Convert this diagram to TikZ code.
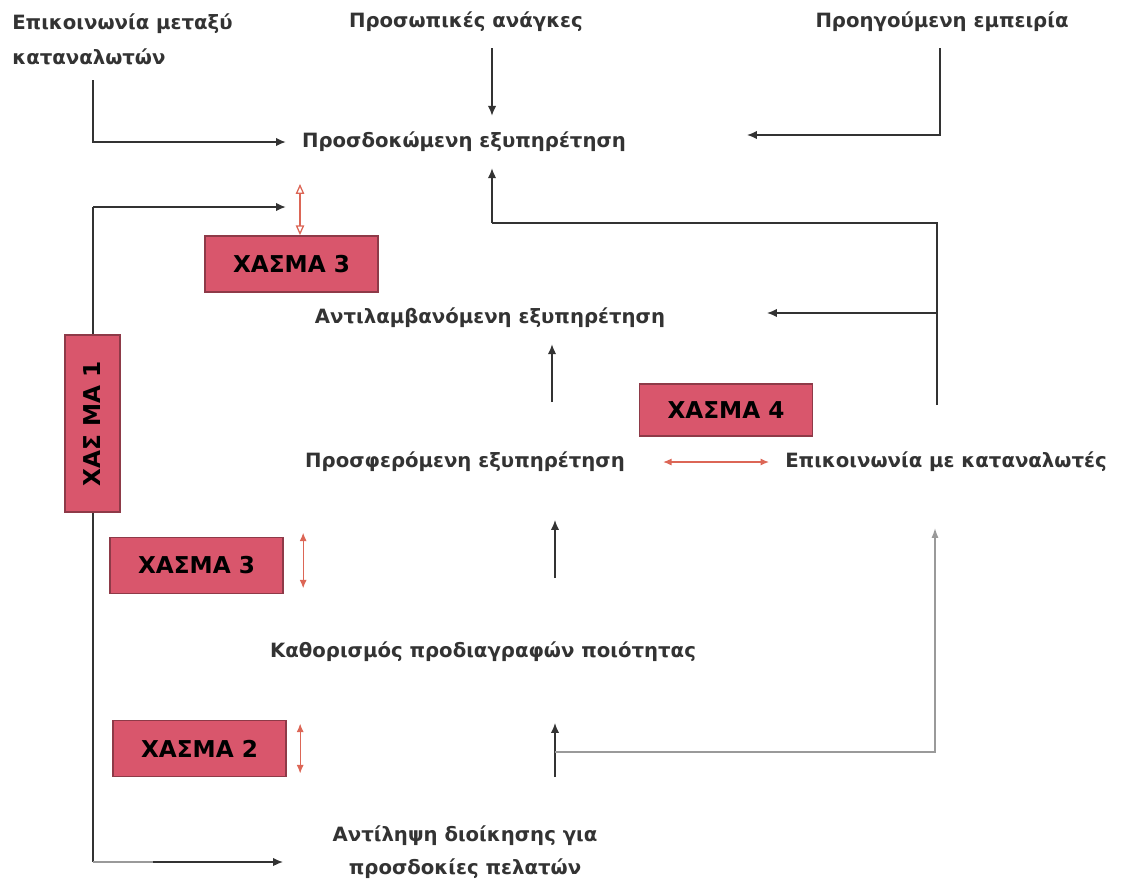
\documentclass[tikz,border=0pt]{standalone}
\usepackage{fontspec}
\setmainfont{DejaVu Sans}
\usetikzlibrary{positioning, arrows.meta}
\definecolor{gapfill}{HTML}{D9566C}
\definecolor{gapline}{HTML}{8E3A48}
\definecolor{gaparrow}{HTML}{DC6656}
\definecolor{txt}{HTML}{333333}
\definecolor{paleline}{HTML}{9A9A9A}

\begin{document}
\begin{tikzpicture}[
    x=0.025cm, y=-0.025cm,
    term/.style={font=\fontsize{14}{23}\selectfont\bfseries, text=txt, inner sep=0.4cm, align=center},
    gapbox/.style={rectangle, draw=gapline, line width=1.2pt, fill=gapfill, font=\fontsize{16.5}{19}\selectfont\bfseries, text=black, minimum width=4.33cm, minimum height=1.4cm},
    link/.style={draw=txt, line width=1.1pt},
    arr/.style={link, -{Latex[length=7pt,width=6pt]}},
    gaparr/.style={draw=gaparrow, line width=0.9pt, {Latex[length=6pt,width=5pt]}-{Latex[length=6pt,width=5pt]}},
    openarr/.style={draw=gaparrow, line width=0.9pt, {Triangle[open,length=7pt,width=6pt]}-{Triangle[open,length=7pt,width=6pt]}}
]
    \useasboundingbox (0,0) rectangle (1132,884);

    % texts
    \node[term, font=\fontsize{14}{25}\selectfont\bfseries, align=left, anchor=north west, inner sep=0pt] (wom) at (12,13) {Επικοινωνία μεταξύ\\καταναλωτών};
    \node[term] (needs) at (466,22) {Προσωπικές ανάγκες};
    \node[term] (past) at (942,22) {Προηγούμενη εμπειρία};
    \node[term] (expected) at (464,142) {Προσδοκώμενη εξυπηρέτηση};
    \node[term] (perceived) at (490,318) {Αντιλαμβανόμενη εξυπηρέτηση};
    \node[term] (delivered) at (465,462) {Προσφερόμενη εξυπηρέτηση};
    \node[term] (extcomm) at (946,462) {Επικοινωνία με καταναλωτές};
    \node[term] (specs) at (483,652) {Καθορισμός προδιαγραφών ποιότητας};
    \node[term] (mgmt) at (465,852) {Αντίληψη διοίκησης για\\προσδοκίες πελατών};

    % free ends and bends
    \coordinate (womfoot) at (93,80);
    \coordinate (pastend) at (747,135);
    \coordinate (loopfoot) at (937,405);
    \coordinate (loopbend) at (492,223);
    \coordinate (percend) at (767,313);
    \coordinate (lefttop) at (93,207);
    \coordinate (leftfoot) at (93,862);
    \coordinate (mgmtend) at (283,862);
    \coordinate (gaptop) at (300,184);
    \coordinate (delfoot) at (552,402);
    \coordinate (specfoot) at (555,578);
    \coordinate (spechead) at (555,520);
    \coordinate (mgmtfoot) at (555,777);
    \coordinate (mgmthead) at (555,723);
    \coordinate (extfoot) at (935,752);
    \coordinate (exthead) at (935,528);

    % connectors
    \draw[arr] (womfoot) |- (expected.west);
    \draw[arr] ([xshift=0.65cm]needs.south) -- ([xshift=0.7cm]expected.north);
    \draw[arr] ([xshift=-0.05cm]past.south) |- (pastend);
    \draw[link] (loopfoot) |- (loopbend);
    \draw[arr] (loopbend) -- (loopbend |- expected.south);
    \draw[arr] (loopfoot |- percend) -- (percend);
    \draw[arr] (lefttop) -- (lefttop -| expected.west);
    \draw[link] (lefttop) -- (leftfoot);
    \draw[link, paleline] (leftfoot) -- ++(60,0);
    \draw[arr] ([xshift=1.5cm]leftfoot) -- (mgmtend);
    \draw[arr] (delfoot) -- (delfoot |- perceived.south);
    \draw[arr] (specfoot) -- (spechead);
    \draw[arr] (mgmtfoot) -- (mgmthead);
    \draw[draw=paleline, line width=1pt, -{Latex[length=7pt,width=5pt]}] (mgmtfoot |- extfoot) -- (extfoot) -- (exthead);

    % gaps
    \node[gapbox] (gapthree) at (291.5,264) {ΧΑΣΜΑ 3};
    \node[gapbox, minimum height=1.3cm] (gapfour) at (726,410) {ΧΑΣΜΑ 4};
    \node[gapbox, rotate=90, minimum width=4.43cm, minimum height=1.38cm] (gapone) at (92.5,423.5) {ΧΑΣ ΜΑ 1};
    \node[gapbox] (gapthreeb) at (196.5,565.5) {ΧΑΣΜΑ 3};
    \node[gapbox] (gaptwo) at (199.5,748.5) {ΧΑΣΜΑ 2};

    \draw[openarr] (gaptop) -- (gaptop |- gapthree.north);
    \draw[gaparr] ([xshift=0.55cm]delivered.east) -- (extcomm.west);
    \draw[gaparr] ([xshift=0.48cm, yshift=0.1cm]gapthreeb.north east) -- ([xshift=0.48cm, yshift=0.15cm]gapthreeb.south east);
    \draw[gaparr, line width=0.7pt] ([xshift=0.33cm, yshift=-0.1cm]gaptwo.north east) -- ([xshift=0.33cm, yshift=0.1cm]gaptwo.south east);
\end{tikzpicture}
\end{document}
